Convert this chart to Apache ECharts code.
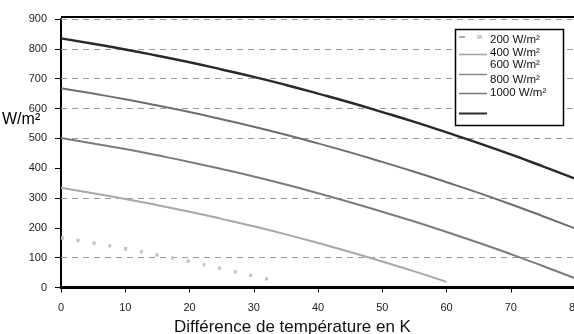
<!DOCTYPE html>
<html><head><meta charset="utf-8">
<script src="https://cdn.jsdelivr.net/npm/echarts@6/dist/echarts.min.js"></script>
<style>html,body{margin:0;padding:0;background:#fff}#c{width:574px;height:334px}</style>
</head><body><div id="c"></div>
<script>
// Temperature difference (K)
const xValues = [0, 5, 10, 15, 20, 25, 30, 35, 40, 45, 50, 55, 60, 65, 70, 75, 80];
// Collector output (W/m²) per irradiance level
const s1000 = [835, 817, 798, 777, 755, 731, 706, 679, 650, 620, 588, 555, 520, 484, 446, 406, 365];
const s800  = [668, 650, 631, 610, 588, 564, 539, 512, 483, 453, 421, 388, 353, 317, 279, 239, 198];
const s600  = [501, 483, 464, 443, 421, 397, 372, 345, 316, 286, 254, 221, 186, 150, 112, 72, 31];
const x400  = [0, 5, 10, 15, 20, 25, 30, 35, 40, 45, 50, 55, 60];
const s400  = [334, 316, 297, 276, 254, 230, 205, 178, 149, 119, 87, 54, 19];
const x200  = [0, 5, 10, 15, 20, 25, 30, 33];
const s200  = [167, 149, 130, 109, 87, 63, 38, 25];
const legendNames = ['200 W/m²', '400 W/m²', '600 W/m²', '800 W/m²', '1000 W/m²'];
const gridValues = [100, 300, 500, 600, 700, 800, 900];
const xTitle = 'Différence de température en K';
const yTitle = 'W/m²';

const pairs = (xs, ys) => xs.map((x, i) => [x, ys[i]]);
const FONT = '"Liberation Sans", Arial, sans-serif';

const chart = echarts.init(document.getElementById('c'), null, {renderer: 'canvas'});

const legendLineY = [37, 54.5, 74.5, 93.5, 113.5];
const legendTextY = [39.5, 52.5, 64.5, 79.5, 92.5];
const graphics = [
  {type: 'line', shape: {x1: 61, y1: 17, x2: 574, y2: 17}, style: {stroke: '#000', lineWidth: 2}, z: 10},
  {type: 'text', left: 2, top: 112, style: {text: yTitle, font: '16px ' + FONT, fill: '#000'}},
  {type: 'rect', shape: {x: 455.5, y: 29.5, width: 108, height: 96}, style: {fill: '#fff', stroke: '#000', lineWidth: 1.5}, z: 20}
];
legendNames.forEach((n, i) => {
  graphics.push({type: 'text', x: 490, y: legendTextY[i], style: {text: n, font: '11.5px ' + FONT, fill: '#111', verticalAlign: 'middle'}, z: 21});
});
graphics.push({type: 'line', shape: {x1: 459, y1: legendLineY[0], x2: 465, y2: legendLineY[0]}, style: {stroke: '#aaa', lineWidth: 2}, z: 21});
graphics.push({type: 'rect', shape: {x: 477, y: legendLineY[0] - 2, width: 5, height: 4}, style: {fill: '#d0d0d0'}, z: 21});
const sampleColors = ['#a0a0a0', '#8a8a8a', '#7a7a7a', '#2a2a2a'];
for (let i = 1; i < 5; i++) {
  graphics.push({type: 'line', shape: {x1: 459, y1: legendLineY[i], x2: 487, y2: legendLineY[i]}, style: {stroke: sampleColors[i - 1], lineWidth: i === 4 ? 2 : 1.5}, z: 21});
}

const baseLine = (name, data, color, width, extra) => Object.assign({
  name, type: 'line', data, smooth: true, showSymbol: false, symbol: 'none',
  lineStyle: {color, width}, itemStyle: {color}, z: 5, silent: true
}, extra || {});

chart.setOption({
  animation: false,
  backgroundColor: '#fff',
  textStyle: {fontFamily: FONT},
  grid: {left: 61, right: -1, top: 19, bottom: 46.5, containLabel: false, outerBoundsMode: 'none'},
  xAxis: {
    type: 'value', min: 0, max: 80, interval: 10,
    name: xTitle, nameLocation: 'middle', nameGap: 28,
    nameTextStyle: {fontSize: 17, color: '#111', fontFamily: FONT, padding: [0, 51, 0, 0]},
    axisLine: {show: true, lineStyle: {color: '#000', width: 3}},
    axisTick: {show: true, length: 5, lineStyle: {color: '#000', width: 1}},
    axisLabel: {fontSize: 11, color: '#222', margin: 15, fontFamily: FONT, hideOverlap: false},
    splitLine: {show: false}
  },
  yAxis: {
    type: 'value', min: 0, max: 900, interval: 100,
    axisLine: {show: true, lineStyle: {color: '#000', width: 2}},
    axisTick: {show: true, length: 6, lineStyle: {color: '#000', width: 1}},
    axisLabel: {fontSize: 11, color: '#222', margin: 14, fontFamily: FONT},
    splitLine: {show: false}
  },
  series: [
    baseLine('200 W/m²', pairs(x200, s200), '#c4c4c4', 3, {lineStyle: {color: '#c4c4c4', width: 3.5, type: [3, 13]}}),
    baseLine('400 W/m²', pairs(x400, s400), '#a8a8a8', 2),
    baseLine('600 W/m²', pairs(xValues, s600), '#7c7c7c', 2),
    baseLine('800 W/m²', pairs(xValues, s800), '#6e6e6e', 2),
    baseLine('1000 W/m²', pairs(xValues, s1000), '#2a2a2a', 2.5, {
      markLine: {
        silent: true, symbol: 'none', label: {show: false}, animation: false,
        lineStyle: {color: '#9a9a9a', type: [6, 5], width: 1},
        data: gridValues.map(v => ({yAxis: v}))
      }
    })
  ],
  graphic: graphics
});
</script></body></html>
